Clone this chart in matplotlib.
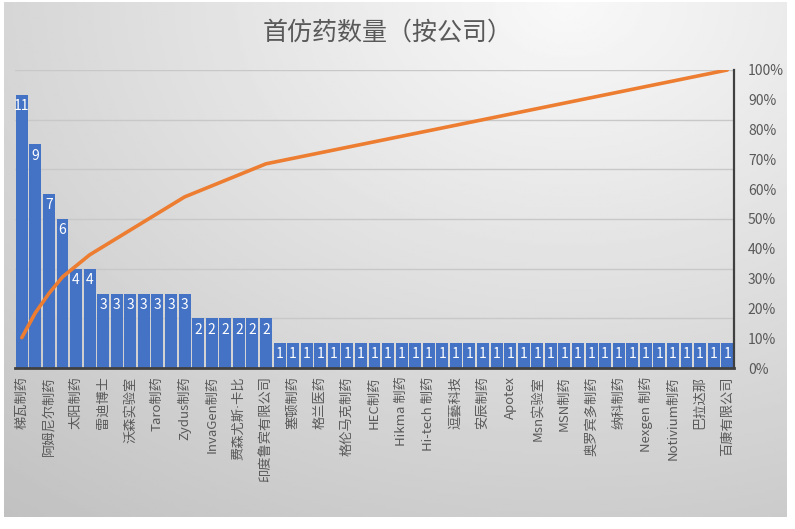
import numpy as np
import matplotlib
matplotlib.use("Agg")
import matplotlib.pyplot as plt
from matplotlib.ticker import PercentFormatter, MultipleLocator

plt.rcParams['font.family'] = ['Noto Sans CJK SC', 'DejaVu Sans']

# number of first generics per company (sorted, 53 companies)
counts = [11, 9, 7, 6, 4, 4,
          3, 3, 3, 3, 3, 3, 3,
          2, 2, 2, 2, 2, 2,
          1, 1, 1, 1, 1, 1, 1, 1, 1, 1, 1, 1, 1, 1, 1, 1, 1,
          1, 1, 1, 1, 1, 1, 1, 1, 1, 1, 1, 1, 1, 1, 1, 1, 1]

# only every second company name is shown on the axis
shown_labels = ["梯瓦制药", "阿姆尼尔制药", "太阳制药", "雷迪博士", "沃森实验室",
                "Taro制药", "Zydus制药", "InvaGen制药", "费森尤斯·卡比",
                "印度鲁宾有限公司", "塞顿制药", "格兰医药", "格伦马克制药",
                "HEC制药", "Hikma 制药", "Hi-tech 制药", "逗藝科技", "安辰制药",
                "Apotex", "Msn实验室", "MSN制药", "奥罗宾多制药", "纳科制药",
                "Nexgen 制药", "Notivium制药", "巴拉达那", "百康有限公司"]

title = "首仿药数量（按公司）"

BLUE = "#4472C4"
ORANGE = "#ED7D31"
GREY = "#595959"

counts = np.array(counts)
x = np.arange(len(counts))
cum_pct = np.cumsum(counts) / counts.sum()

fig = plt.figure(figsize=(7.95, 5.29), dpi=100)
fig.patch.set_facecolor("white")

# gradient background like the excel chart area
bg = fig.add_axes([4/795, 12/529, 783/795, 515/529])
gx, gy = np.meshgrid(np.linspace(0, 1, 300), np.linspace(0, 1, 200))
d = np.sqrt(((gx - 0.72) * 1.0) ** 2 + (gy * 0.9) ** 2)
shade = 0.975 - 0.19 * d
bg.imshow(shade, cmap="gray", vmin=0, vmax=1, aspect="auto",
          extent=[0, 1, 0, 1], origin="upper")
bg.set_axis_off()

ax = fig.add_axes([15/795, 1 - 368/529, 719/795, 298/529])
ax.patch.set_alpha(0)
ax.bar(x, counts, width=0.88, color=BLUE, edgecolor="none", zorder=2)
for xi, c in zip(x, counts):
    ax.annotate(str(c), (xi, c), xytext=(0, -3), textcoords="offset points",
                ha="center", va="top", color="white", fontsize=10, zorder=3)

ax.set_xlim(-0.5, len(counts) - 0.5)
ax.set_ylim(0, 12)
ax.yaxis.set_major_locator(MultipleLocator(2))
ax.grid(axis="y", color="#c8c8c8", linewidth=1, zorder=0)
ax.set_yticklabels([])
ax.tick_params(axis="y", length=0, left=False)
ax.set_xticks(x[::2])
ax.set_xticklabels(shown_labels, rotation=90, fontsize=9.5, color=GREY)
for lab in ax.get_xticklabels():
    if "·" in lab.get_text():
        lab.set_family(['DejaVu Sans', 'Noto Sans CJK SC'])
ax.tick_params(axis="x", length=0, pad=6)
for s in ["top", "left", "right"]:
    ax.spines[s].set_visible(False)
ax.spines["bottom"].set_color("#404040")
ax.spines["bottom"].set_linewidth(2)

ax2 = ax.twinx()
ax2.plot(x, cum_pct, color=ORANGE, linewidth=2.6, solid_capstyle="round", zorder=4)
ax2.set_ylim(0, 1)
ax2.yaxis.set_major_locator(MultipleLocator(0.1))
ax2.yaxis.set_major_formatter(PercentFormatter(1.0, decimals=0))
ax2.tick_params(axis="y", length=0, pad=10, labelsize=10, labelcolor=GREY)
for s in ["top", "left", "bottom"]:
    ax2.spines[s].set_visible(False)
ax2.spines["right"].set_color("#404040")
ax2.spines["right"].set_linewidth(1.6)

fig.text(388/795, 1 - 33/529, title, ha="center", va="center",
         fontsize=18, color=GREY)

fig.savefig("out.png", dpi=100)
